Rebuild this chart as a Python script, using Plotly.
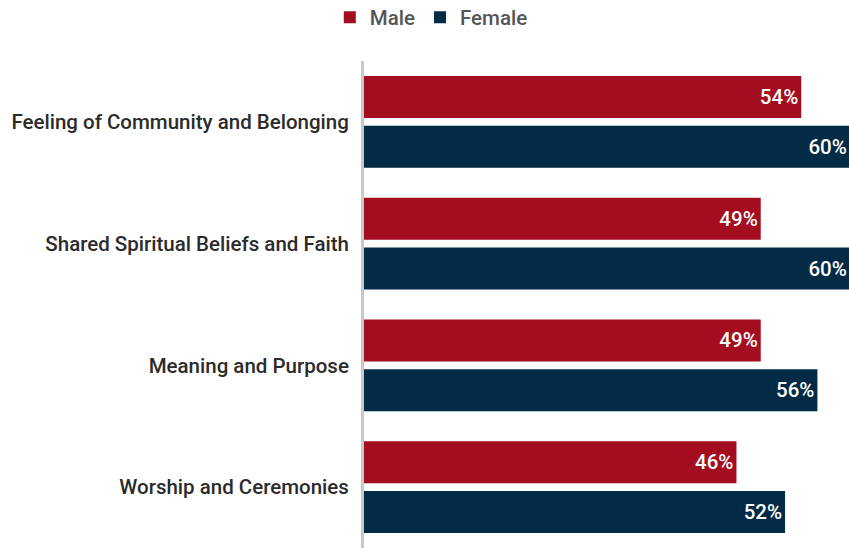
import plotly.graph_objects as go

categories = ['Feeling of Community and Belonging', 'Shared Spiritual Beliefs and Faith',
              'Meaning and Purpose', 'Worship and Ceremonies']
male = [54, 49, 49, 46]
female = [60, 60, 56, 52]

FONT = 'Roboto, Arial, sans-serif'

fig = go.Figure()
fig.add_trace(go.Bar(
    y=categories, x=male, name='Male', orientation='h',
    marker=dict(color='#A30D1F', line=dict(width=0)),
    text=[f'{v}%' for v in male], textposition='inside', insidetextanchor='end',
    textfont=dict(color='white', size=20.5, family=FONT, weight=500),
))
fig.add_trace(go.Bar(
    y=categories, x=female, name='Female', orientation='h',
    marker=dict(color='#032B45', line=dict(width=0)),
    text=[f'{v}%' for v in female], textposition='inside', insidetextanchor='end',
    textfont=dict(color='white', size=20.5, family=FONT, weight=500),
))

fig.update_layout(
    width=849, height=548,
    barmode='group', bargap=0.18, bargroupgap=0.16,
    plot_bgcolor='white', paper_bgcolor='white',
    margin=dict(l=364, r=0, t=61, b=0),
    font=dict(family=FONT, color='#333333'),
    legend=dict(orientation='h', xref='container', yref='container',
                x=0.508, y=0.968, xanchor='center', yanchor='middle',
                font=dict(size=20.5, color='#555555', weight=500), itemwidth=30,
                traceorder='normal'),
)
fig.update_xaxes(range=[0, 59.9], visible=False, showgrid=False)
fig.update_yaxes(autorange='reversed', automargin=False,
                 showline=True, linecolor='#C8C8C8', linewidth=3,
                 ticks='', ticklabelstandoff=8,
                 tickfont=dict(size=20.5, color='#2B2B2B', weight=500),
                 showgrid=False)

# drop the default body margin so the figure fills the window
fig.write_html('out.html', config={'displayModeBar': False},
               post_script="document.body.style.margin='0';document.body.style.overflow='hidden';")
